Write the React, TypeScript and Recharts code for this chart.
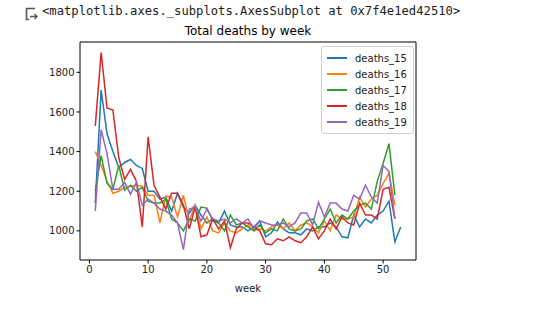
import React from 'react'
import { LineChart, Line, XAxis, YAxis, Legend } from 'recharts'

const weeks = [
  1, 2, 3, 4, 5, 6, 7, 8, 9, 10, 11, 12, 13, 14, 15, 16, 17, 18, 19, 20, 21, 22, 23, 24, 25, 26, 27,
  28, 29, 30, 31, 32, 33, 34, 35, 36, 37, 38, 39, 40, 41, 42, 43, 44, 45, 46, 47, 48, 49, 50, 51, 52, 53,
]

const deaths15 = [
  1140, 1710, 1490, 1400, 1320, 1345, 1360, 1330, 1315, 1200, 1200, 1160, 1170, 1100, 1190, 1120, 1090,
  1130, 1080, 1040, 1060, 1040, 1100, 1030, 1020, 1020, 1000, 1020, 1050, 970, 990, 1045, 1010, 990, 990,
  980, 1010, 1000, 1020, 1020, 1040, 1020, 970, 965, 1080, 1020, 1060, 1040, 1080, 1100, 1150, 945, 1020,
]
const deaths16 = [
  1400, 1330, 1250, 1190, 1200, 1220, 1225, 1230, 1225, 1180, 1180, 1040, 1175, 1170, 1070, 1180, 1050,
  1130, 1010, 1070, 1000, 990, 1040, 1000, 990, 1010, 1030, 1000, 1010, 1000, 1020, 1030, 1010, 1040, 1000,
  1030, 1040, 1020, 990, 1050, 1000, 1080, 1060, 1060, 1070, 1170, 1120, 1160, 1180, 1240, 1290, 1130,
]
const deaths17 = [
  1200, 1380, 1240, 1210, 1330, 1205, 1230, 1200, 1220, 1150, 1140, 1140, 1160, 1060, 1040, 1000, 1060,
  1050, 1120, 1115, 1050, 1040, 1000, 1080, 1030, 1040, 1020, 1000, 1030, 990, 1010, 1000, 1060, 1010, 1000,
  1010, 1050, 1060, 1010, 1060, 1110, 1040, 1080, 1060, 1100, 1130, 1140, 1110, 1250, 1340, 1440, 1180,
]
const deaths18 = [
  1530, 1900, 1620, 1610, 1370, 1260, 1310, 1250, 1020, 1475, 1230, 1170, 1110, 1190, 1190, 1130, 1010,
  1120, 970, 980, 1060, 1010, 1050, 915, 1010, 1040, 1040, 1020, 1000, 935, 930, 960, 950, 970, 950, 940,
  970, 1020, 960, 1000, 1060, 1010, 1070, 1040, 1030, 1140, 1080, 1080, 1060, 1210, 1220, 1060,
]
const deaths19 = [
  1100, 1510, 1390, 1210, 1210, 1245, 1185, 1245, 1130, 1160, 1140, 1110, 1100, 1080, 1040, 905, 1110,
  1120, 1050, 1110, 1060, 1050, 1060, 1040, 1060, 1040, 1060, 1010, 1050, 1040, 1030, 1030, 1040, 1020, 1040,
  1090, 1090, 1030, 1145, 1070, 1140, 1140, 1110, 1100, 1180, 1160, 1230, 1170, 1140, 1330, 1300, 1060,
]

const xTicks = [0, 10, 20, 30, 40, 50]
const yTicks = [1000, 1200, 1400, 1600, 1800]

const series = [
  { key: 'deaths_15', color: '#1f77b4', values: deaths15 },
  { key: 'deaths_16', color: '#ff7f0e', values: deaths16 },
  { key: 'deaths_17', color: '#2ca02c', values: deaths17 },
  { key: 'deaths_18', color: '#d62728', values: deaths18 },
  { key: 'deaths_19', color: '#9467bd', values: deaths19 },
]

const rows = weeks.map((week, i) => {
  const row: Record<string, number | null> = { week }
  for (const s of series) row[s.key] = i < s.values.length ? s.values[i] : null
  return row
})

const mplFont = '"DejaVu Sans", sans-serif'
const tickStyle = { fontSize: 10, fill: '#222', fontFamily: mplFont }

function LegendBox() {
  return (
    <div
      style={{
        border: '1px solid #d0d0d0',
        borderRadius: 3,
        background: 'rgba(255,255,255,0.8)',
        padding: '3px 6px 3px 5px',
        fontFamily: mplFont,
        fontSize: 10,
        color: '#222',
      }}
    >
      {series.map((s) => (
        <div key={s.key} style={{ display: 'flex', alignItems: 'center', height: 16 }}>
          <span style={{ display: 'inline-block', width: 20, height: 2, background: s.color, marginRight: 8 }} />
          <span>{s.key}</span>
        </div>
      ))}
    </div>
  )
}

function OutputIcon() {
  return (
    <svg width={14} height={14} viewBox="0 0 14 14" style={{ position: 'absolute', left: 25, top: 7 }}>
      <path d="M10 1.5 H1.5 V12.5 H4" fill="none" stroke="#555" strokeWidth={1.6} />
      <path d="M5 9.5 H12 M9.5 7 L12 9.5 L9.5 12" fill="none" stroke="#555" strokeWidth={1.4} />
    </svg>
  )
}

export default function App() {
  return (
    <div style={{ position: 'absolute', left: 0, top: 0, width: 541, height: 321, background: '#fff' }}>
      <OutputIcon />
      <div
        style={{
          position: 'absolute',
          left: 42,
          top: 4,
          fontFamily: '"DejaVu Sans Mono", monospace',
          fontSize: 12.2,
          color: '#212121',
          whiteSpace: 'pre',
        }}
      >
        {'<matplotlib.axes._subplots.AxesSubplot at 0x7f4e1ed42510>'}
      </div>
      <div
        style={{
          position: 'absolute',
          left: 80,
          width: 336,
          top: 24,
          textAlign: 'center',
          fontFamily: mplFont,
          fontSize: 12,
          color: '#000',
        }}
      >
        Total deaths by week
      </div>
      <LineChart
        width={541}
        height={321}
        data={rows}
        margin={{ top: 41, right: 124, bottom: 27, left: 40 }}
        style={{ position: 'absolute', left: 0, top: 0 }}
      >
        <XAxis
          dataKey="week"
          type="number"
          domain={[-1.6, 55.6]}
          ticks={xTicks}
          allowDataOverflow
          height={34}
          tickSize={3.5}
          tickMargin={2}
          stroke="#000"
          tick={tickStyle}
          label={{ value: 'week', position: 'insideBottom', offset: 2, style: { fontSize: 10, fill: '#222', fontFamily: mplFont } }}
        />
        <XAxis
          xAxisId="top"
          orientation="top"
          dataKey="week"
          type="number"
          domain={[-1.6, 55.6]}
          height={1}
          tick={false}
          tickLine={false}
          stroke="#000"
        />
        <YAxis
          type="number"
          domain={[853, 1953]}
          ticks={yTicks}
          allowDataOverflow
          width={40}
          tickSize={3.5}
          tickMargin={2}
          stroke="#000"
          tick={tickStyle}
        />
        <YAxis
          yAxisId="right"
          orientation="right"
          type="number"
          domain={[853, 1953]}
          width={1}
          tick={false}
          tickLine={false}
          stroke="#000"
        />
        <Legend
          layout="horizontal"
          align="center"
          verticalAlign="middle"
          content={() => <LegendBox />}
          wrapperStyle={{ position: 'absolute', left: 321, top: 46, width: 'auto' }}
        />
        {series.map((s) => (
          <Line
            key={s.key}
            dataKey={s.key}
            stroke={s.color}
            strokeWidth={1.5}
            dot={false}
            activeDot={false}
            isAnimationActive={false}
          />
        ))}
      </LineChart>
    </div>
  )
}
